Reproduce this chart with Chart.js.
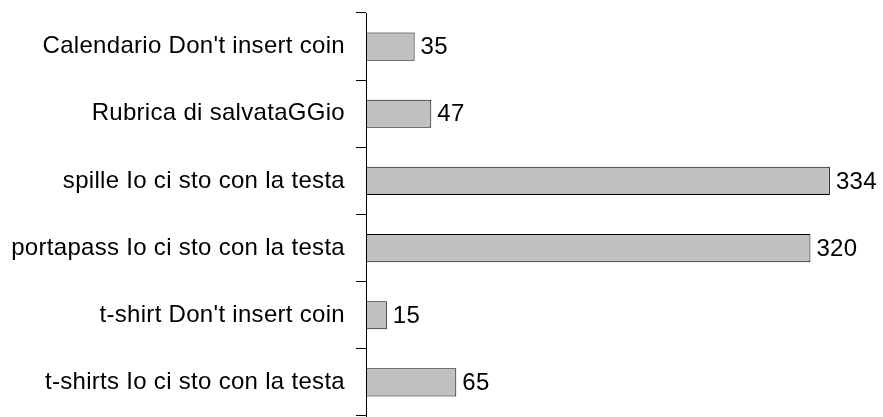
<!DOCTYPE html>
<html>
<head>
<meta charset="utf-8">
<script src="https://cdn.jsdelivr.net/npm/chart.js@4.4.1/dist/chart.umd.min.js"></script>
<style>
  html, body { margin: 0; padding: 0; background: #fff; }
  #wrap { width: 883px; height: 417px; }
</style>
</head>
<body>
<div id="wrap"><canvas id="chartCanvas"></canvas></div>
<script>
var categories = [
  'Calendario Don\'t insert coin',
  'Rubrica di salvataGGio',
  'spille Io ci sto con la testa',
  'portapass Io ci sto con la testa',
  't-shirt Don\'t insert coin',
  't-shirts Io ci sto con la testa'
];
var quantities = [35, 47, 334, 320, 15, 65];

// slightly loose letter spacing like the original rendering
var spacing = {
  id: 'spacing',
  beforeDraw: function(chart) { chart.ctx.letterSpacing = '0.3px'; }
};

// value labels at the end of each bar
var valueLabels = {
  id: 'valueLabels',
  afterDatasetsDraw: function(chart) {
    var ctx = chart.ctx;
    var meta = chart.getDatasetMeta(0);
    ctx.save();
    ctx.font = '24px "Liberation Sans", Arial, sans-serif';
    ctx.fillStyle = '#000';
    ctx.textBaseline = 'middle';
    ctx.textAlign = 'left';
    meta.data.forEach(function(bar, i) {
      ctx.fillText(String(quantities[i]), bar.x + 6, bar.y + 1);
    });
    ctx.restore();
  }
};

var ctx = document.getElementById('chartCanvas').getContext('2d');
var chart = new Chart(ctx, {
  type: 'bar',
  data: {
    labels: categories,
    datasets: [{
      data: quantities,
      backgroundColor: '#c0c0c0',
      borderColor: '#000',
      borderWidth: 1,
      borderSkipped: false,
      categoryPercentage: 1,
      barPercentage: 0.42
    }]
  },
  options: {
    indexAxis: 'y',
    responsive: true,
    maintainAspectRatio: false,
    animation: false,
    layout: { padding: { left: 0, right: 17, top: 13, bottom: 1 } },
    plugins: {
      legend: { display: false },
      tooltip: { enabled: false }
    },
    scales: {
      x: {
        display: false,
        min: 0,
        max: 360
      },
      y: {
        offset: true,
        afterFit: function(scale) {
          scale.width = 366;
          scale.paddingTop = 0;
          scale.paddingBottom = 0;
        },
        grid: {
          offset: true,
          drawOnChartArea: false,
          color: '#000',
          tickLength: 10
        },
        border: { display: true, color: '#000', width: 1 },
        ticks: {
          color: '#000',
          padding: 11,
          font: { family: '"Liberation Sans", Arial, sans-serif', size: 24 }
        }
      }
    }
  },
  plugins: [spacing, valueLabels]
});
</script>
</body>
</html>
